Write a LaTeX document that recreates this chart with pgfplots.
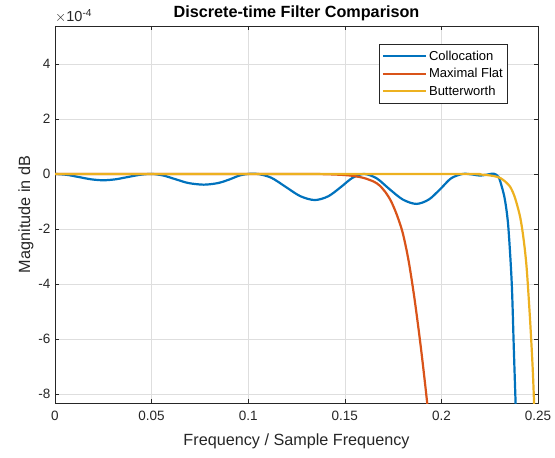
\documentclass[border=0pt]{standalone}
\usepackage{fontspec}
\setmainfont{Liberation Sans}
\usepackage{pgfplots}
\pgfplotsset{compat=1.18}
\usetikzlibrary{calc}

\definecolor{mblue}{rgb}{0,0.447,0.741}
\definecolor{mred}{rgb}{0.85,0.325,0.098}
\definecolor{myellow}{rgb}{0.929,0.694,0.125}
\definecolor{axgray}{gray}{0.15}
\definecolor{gridgray}{gray}{0.87}

\begin{document}
\begin{tikzpicture}
\begin{axis}[
  scale only axis,
  width=483pt, height=377pt,
  xmin=0, xmax=0.25,
  ymin=-8.33, ymax=5.38,
  xtick={0,0.05,0.1,0.15,0.2,0.25},
  xticklabels={0,0.05,0.1,0.15,0.2,0.25},
  ytick={-8,-6,-4,-2,0,2,4},
  yticklabels={-8,-6,-4,-2,0,2,4},
  scaled x ticks=false,
  tick align=inside,
  tick pos=both,
  major tick length=4pt,
  axis line style={axgray, line width=0.6pt},
  every tick/.style={axgray, line width=0.6pt},
  grid=major,
  major grid style={gridgray, line width=0.6pt},
  tick label style={font=\fontsize{13.5}{15}\selectfont, text=axgray},
  xticklabel style={yshift=-5pt},
  yticklabel style={xshift=-1pt},
  label style={font=\fontsize{16.2}{18}\selectfont, text=axgray},
  xlabel={Frequency / Sample Frequency},
  ylabel={Magnitude in dB},
  xlabel style={yshift=-6pt},
  ylabel style={yshift=-2pt},
  title={Discrete-time Filter Comparison},
  title style={font=\bfseries\fontsize{16.2}{18}\selectfont, yshift=-4pt},
  legend style={at={(0.938,0.952)}, anchor=north east,
    draw=axgray, line width=0.6pt, fill=white,
    font=\fontsize{13}{15}\selectfont, text=black,
    inner xsep=3pt, inner ysep=3pt,
    nodes={minimum height=17.5pt, inner ysep=0pt},
    row sep=0pt,
    cells={anchor=west}},
  legend image code/.code={\draw[#1, line width=2.2pt] (0pt,0pt) -- (43pt,0pt);},
  clip mode=individual,
]
% Collocation
\addplot[mblue, line width=2.2pt, smooth, tension=0.5] coordinates {
(0,0) (0.00625,-0.034) (0.0125,-0.115) (0.01875,-0.196) (0.025,-0.23)
(0.03125,-0.196) (0.0375,-0.115) (0.04375,-0.034) (0.05,0)
(0.056,-0.057) (0.0625,-0.195) (0.069,-0.33) (0.077,-0.39)
(0.0845,-0.33) (0.0905,-0.195) (0.0955,-0.057) (0.1,0) (0.105,0)
(0.112,-0.14) (0.1195,-0.475) (0.127,-0.81) (0.1345,-0.95)
(0.1415,-0.81) (0.148,-0.475) (0.154,-0.14) (0.16,0)
(0.1665,-0.16) (0.173,-0.545) (0.18,-0.93) (0.187,-1.09)
(0.1935,-0.93) (0.1995,-0.545) (0.205,-0.16) (0.211,0)
(0.216,-0.02) (0.22,-0.06) (0.224,-0.02) (0.227,0.01) (0.2295,-0.1)
(0.2312,-0.45) (0.2329,-0.95) (0.2346,-1.9) (0.2364,-3.97)
(0.2375,-6.4) (0.2384,-8.33) (0.2392,-10)
};
% Maximal Flat
\addplot[mred, line width=2.2pt, smooth, tension=0.5] coordinates {
(0,0) (0.1,0) (0.13,-0.002) (0.14,-0.01) (0.15,-0.04) (0.155,-0.08)
(0.16,-0.15) (0.165,-0.28) (0.168,-0.42) (0.171,-0.66) (0.174,-1.0)
(0.177,-1.5) (0.18,-2.15) (0.183,-3.15) (0.186,-4.5) (0.189,-6.1)
(0.1915,-7.6) (0.1935,-8.9) (0.195,-10)
};
% Butterworth
\addplot[myellow, line width=2.2pt, smooth, tension=0.5] coordinates {
(0,0) (0.2,0) (0.22,-0.02) (0.2286,-0.1) (0.232,-0.22) (0.2355,-0.46)
(0.238,-0.85) (0.2407,-1.55) (0.2425,-2.35) (0.2441,-3.4) (0.2458,-5.2)
(0.2472,-7.0) (0.248,-8.4) (0.249,-10.5)
};
\legend{Collocation, Maximal Flat, Butterworth}
\node[anchor=south west, inner sep=0pt, text=axgray, font=\fontsize{14.5}{16}\selectfont]
  at (rel axis cs:0,1) [yshift=3pt] {$\times$10\textsuperscript{-4}};
\end{axis}
\pgfresetboundingbox
\path ($(current axis.south west)+(-55pt,-54pt)$) rectangle ($(current axis.north east)+(17pt,26pt)$);
\end{tikzpicture}
\end{document}
